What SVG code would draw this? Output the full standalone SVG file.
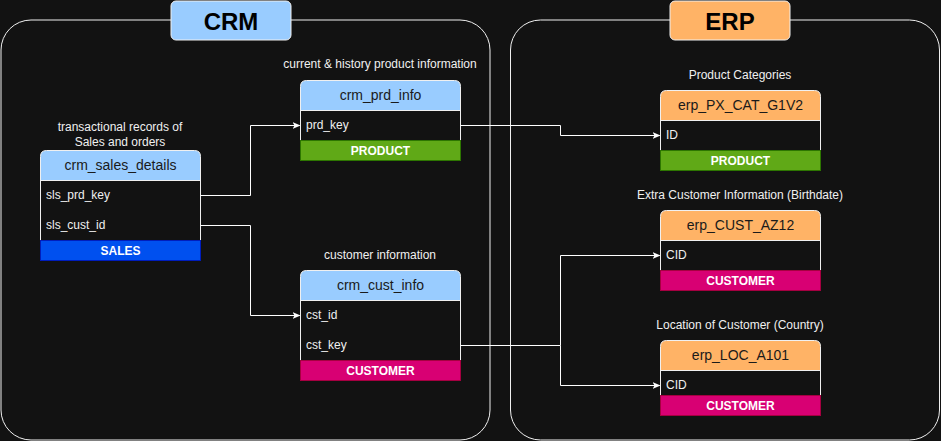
<svg xmlns="http://www.w3.org/2000/svg" width="941" height="441" viewBox="0 0 941 441">
<style>
.bg{fill:#121212}
.cont{fill:#121212;stroke:#f0f0f0;stroke-width:1}
.title{font-family:"Liberation Sans",Arial,sans-serif;font-size:24px;font-weight:bold;fill:#000;text-anchor:middle}
.lbl{font-family:"Liberation Sans",Arial,sans-serif;font-size:12px;fill:#f0f0f0;text-anchor:middle}
.hdr-crm{fill:#99CCFF;stroke:#f0f0f0;stroke-width:1}
.hdr-erp{fill:#FFB366;stroke:#f0f0f0;stroke-width:1}
.htxt{font-family:"Liberation Sans",Arial,sans-serif;font-size:14px;fill:#1a1a1a;text-anchor:middle}
.body{fill:#121212;stroke:#f0f0f0;stroke-width:1}
.row{font-family:"Liberation Sans",Arial,sans-serif;font-size:12px;fill:#f0f0f0}
.ftxt{font-family:"Liberation Sans",Arial,sans-serif;font-size:12px;font-weight:bold;fill:#fff;text-anchor:middle}
.prod{fill:#60A917;stroke:#2D7600}
.sales{fill:#0050EF;stroke:#001DBC}
.cust{fill:#D80073;stroke:#A50040}
.conn{fill:none;stroke:#ffffff;stroke-width:1}
</style>
<defs>
<marker id="arr" markerWidth="8" markerHeight="8" refX="7" refY="4" orient="auto" markerUnits="userSpaceOnUse">
<path d="M0,0.5 L8,4 L0,7.5 L2,4 Z" fill="#ffffff"/>
</marker>
</defs>
<rect class="bg" x="0" y="0" width="941" height="441"/>

<g id="crm-container">
<rect class="cont" x="1" y="20" width="489" height="420" rx="30" ry="30"/>
<rect class="hdr-crm" x="171" y="1" width="120" height="39" rx="5" ry="5"/>
<text class="title" x="231" y="30">CRM</text>
</g>

<g id="erp-container">
<rect class="cont" x="510.5" y="20" width="429" height="420" rx="30" ry="30"/>
<rect class="hdr-erp" x="670" y="1" width="120" height="39" rx="5" ry="5"/>
<text class="title" x="730" y="30">ERP</text>
</g>

<g id="crm_sales_details">
<text class="lbl" x="120" y="131">transactional records of</text>
<text class="lbl" x="120" y="146">Sales and orders</text>
<path class="hdr-crm" d="M40.5,180.5 V156.5 Q40.5,150.5 46.5,150.5 H194.5 Q200.5,150.5 200.5,156.5 V180.5 Z"/>
<text class="htxt" x="120.5" y="170">crm_sales_details</text>
<rect class="body" x="40.5" y="180.5" width="160" height="60"/>
<text class="row" x="46" y="199">sls_prd_key</text>
<text class="row" x="46" y="229">sls_cust_id</text>
<rect class="sales" x="40.5" y="240.5" width="160" height="20"/>
<text class="ftxt" x="120.5" y="254.5">SALES</text>
</g>

<g id="crm_prd_info">
<text class="lbl" x="380" y="68">current &amp; history product information</text>
<path class="hdr-crm" d="M300.5,110.5 V86.5 Q300.5,80.5 306.5,80.5 H454.5 Q460.5,80.5 460.5,86.5 V110.5 Z"/>
<text class="htxt" x="380.5" y="100">crm_prd_info</text>
<rect class="body" x="300.5" y="110.5" width="160" height="30"/>
<text class="row" x="306" y="129">prd_key</text>
<rect class="prod" x="300.5" y="140.5" width="160" height="20"/>
<text class="ftxt" x="380.5" y="154.5">PRODUCT</text>
</g>

<g id="crm_cust_info">
<text class="lbl" x="380" y="259">customer information</text>
<path class="hdr-crm" d="M300.5,300.5 V276.5 Q300.5,270.5 306.5,270.5 H454.5 Q460.5,270.5 460.5,276.5 V300.5 Z"/>
<text class="htxt" x="380.5" y="290">crm_cust_info</text>
<rect class="body" x="300.5" y="300.5" width="160" height="60"/>
<text class="row" x="306" y="319">cst_id</text>
<text class="row" x="306" y="349">cst_key</text>
<rect class="cust" x="300.5" y="360.5" width="160" height="20"/>
<text class="ftxt" x="380.5" y="374.5">CUSTOMER</text>
</g>

<g id="erp_PX_CAT_G1V2">
<text class="lbl" x="740" y="79">Product Categories</text>
<path class="hdr-erp" d="M660.5,120.5 V96.5 Q660.5,90.5 666.5,90.5 H814.5 Q820.5,90.5 820.5,96.5 V120.5 Z"/>
<text class="htxt" x="740.5" y="110">erp_PX_CAT_G1V2</text>
<rect class="body" x="660.5" y="120.5" width="160" height="30"/>
<text class="row" x="666" y="139">ID</text>
<rect class="prod" x="660.5" y="150.5" width="160" height="20"/>
<text class="ftxt" x="740.5" y="164.5">PRODUCT</text>
</g>

<g id="erp_CUST_AZ12">
<text class="lbl" x="740" y="199">Extra Customer Information (Birthdate)</text>
<path class="hdr-erp" d="M660.5,240.5 V216.5 Q660.5,210.5 666.5,210.5 H814.5 Q820.5,210.5 820.5,216.5 V240.5 Z"/>
<text class="htxt" x="740.5" y="230">erp_CUST_AZ12</text>
<rect class="body" x="660.5" y="240.5" width="160" height="30"/>
<text class="row" x="666" y="259">CID</text>
<rect class="cust" x="660.5" y="270.5" width="160" height="20"/>
<text class="ftxt" x="740.5" y="284.5">CUSTOMER</text>
</g>

<g id="erp_LOC_A101">
<text class="lbl" x="740" y="329">Location of Customer (Country)</text>
<path class="hdr-erp" d="M660.5,370.5 V346.5 Q660.5,340.5 666.5,340.5 H814.5 Q820.5,340.5 820.5,346.5 V370.5 Z"/>
<text class="htxt" x="740.5" y="360">erp_LOC_A101</text>
<rect class="body" x="660.5" y="370.5" width="160" height="25"/>
<text class="row" x="666" y="389">CID</text>
<rect class="cust" x="660.5" y="395.5" width="160" height="20"/>
<text class="ftxt" x="740.5" y="409.5">CUSTOMER</text>
</g>

<g id="connectors">
<path class="conn" d="M200.5,195.5 H250.5 V125.5 H299.5" marker-end="url(#arr)"/>
<path class="conn" d="M200.5,225.5 H250.5 V315.5 H299.5" marker-end="url(#arr)"/>
<path class="conn" d="M460.5,125.5 H560.5 V135.5 H659.5" marker-end="url(#arr)"/>
<path class="conn" d="M460.5,345.5 H560.5 V255.5 H659.5" marker-end="url(#arr)"/>
<path class="conn" d="M560.5,345.5 V385.5 H659.5" marker-end="url(#arr)"/>
</g>
</svg>
